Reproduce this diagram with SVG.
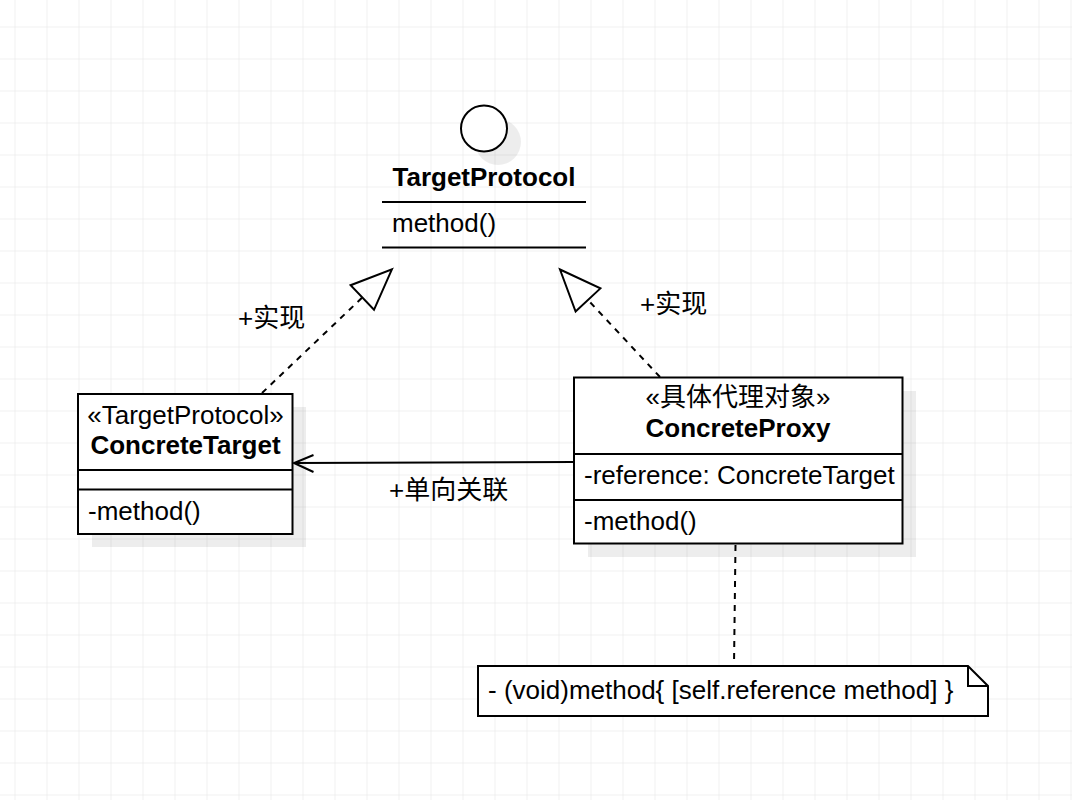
<svg xmlns="http://www.w3.org/2000/svg" width="1072" height="800" viewBox="0 0 1072 800">
<defs>
<pattern id="grid" x="14.5" y="26.5" width="32" height="32" patternUnits="userSpaceOnUse">
<path d="M0,0 V32 M0,0 H32" fill="none" stroke="#e3e3e3" stroke-width="1"/>
</pattern>
</defs>
<style>
text{font-family:"Liberation Sans","Noto Sans CJK SC",Arial,sans-serif;font-size:26px;fill:#000}
.b{font-weight:bold}
.c{text-anchor:middle}
.box{fill:#fff;stroke:#000;stroke-width:2}
.ln{fill:none;stroke:#000;stroke-width:2}
.sh{fill:#000;opacity:0.07}
.dash{fill:none;stroke:#000;stroke-width:2;stroke-dasharray:6 6}
</style>
<rect width="1072" height="800" fill="#fff"/>
<rect width="1072" height="800" fill="url(#grid)"/>

<g id="TargetProtocol">
<circle class="sh" cx="498" cy="142" r="23"/>
<circle cx="484" cy="128.5" r="23" fill="#fff" stroke="#000" stroke-width="2"/>
<text class="b c" x="484" y="186">TargetProtocol</text>
<line class="ln" x1="382" y1="202" x2="586" y2="202"/>
<text x="392" y="232">method()</text>
<line class="ln" x1="382" y1="247.5" x2="586" y2="247.5"/>
</g>

<g id="ConcreteTarget">
<rect class="sh" x="92" y="407" width="214" height="140"/>
<rect class="box" x="78" y="394" width="214.5" height="140"/>
<text class="c" x="185.5" y="424">«TargetProtocol»</text>
<text class="b c" x="185.5" y="454">ConcreteTarget</text>
<line class="ln" x1="78" y1="470" x2="292.5" y2="470"/>
<line class="ln" x1="78" y1="489.5" x2="292.5" y2="489.5"/>
<text x="88" y="520">-method()</text>
</g>

<g id="ConcreteProxy">
<rect class="sh" x="588" y="391" width="328" height="166"/>
<rect class="box" x="574" y="377.5" width="328.5" height="166"/>
<text class="c" x="738" y="406">«具体代理对象»</text>
<text class="b c" x="738" y="437">ConcreteProxy</text>
<line class="ln" x1="574" y1="454" x2="902.5" y2="454"/>
<text x="584" y="484">-reference: ConcreteTarget</text>
<line class="ln" x1="574" y1="500" x2="902.5" y2="500"/>
<text x="584" y="530">-method()</text>
</g>

<g id="Note">
<path class="box" d="M478,666 H968 L988,686 V716 H478 Z"/>
<path class="ln" d="M968,666 V686 H988"/>
<text x="488" y="699">- (void)method{ [self.reference method] }</text>
</g>

<g id="connectors">
<line class="dash" x1="262" y1="393" x2="362.3" y2="297.5"/>
<polygon points="392,269.2 374,309.8 350.6,285.2" fill="none" stroke="#000" stroke-width="2" stroke-linejoin="miter"/>
<text x="238" y="327">+实现</text>

<line class="dash" x1="660" y1="377" x2="588" y2="300"/>
<polygon points="560,269.5 600.4,288.4 575.6,311.6" fill="none" stroke="#000" stroke-width="2" stroke-linejoin="miter"/>
<text x="640" y="313">+实现</text>

<line class="ln" x1="573" y1="462" x2="294" y2="463"/>
<path class="ln" d="M313.5,455 L294,463 L313.5,472"/>
<text x="389" y="499">+单向关联</text>

<line class="dash" x1="735.5" y1="545" x2="734" y2="665"/>
</g>
</svg>
